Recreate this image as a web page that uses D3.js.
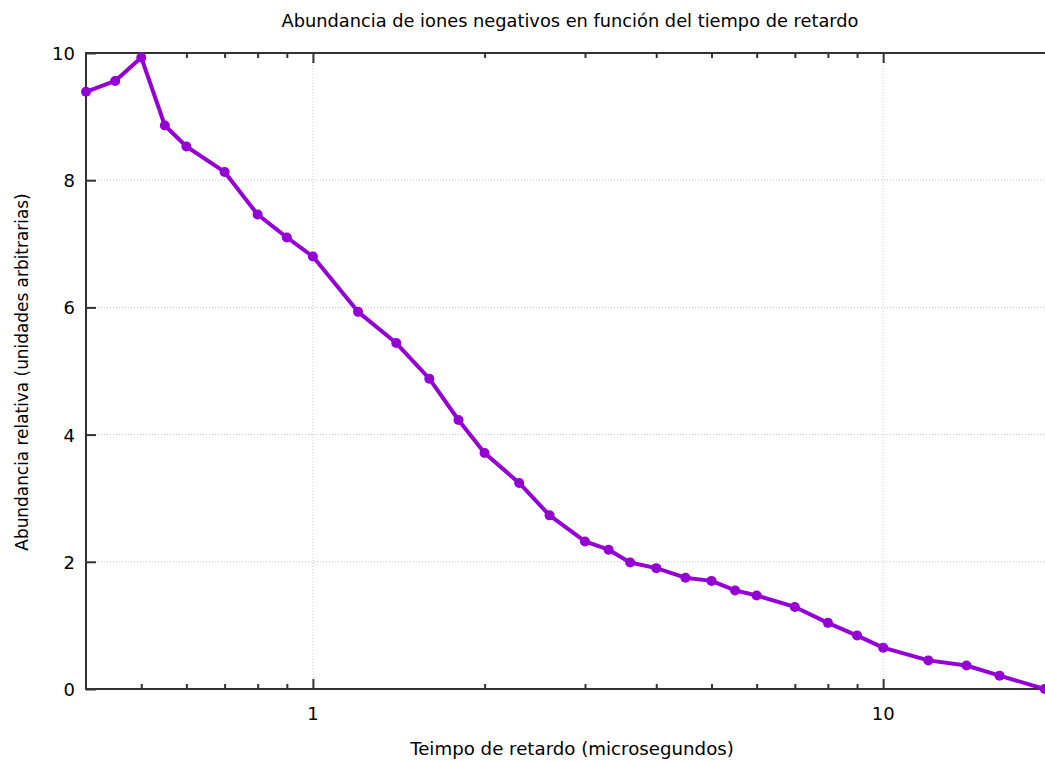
<!DOCTYPE html>
<meta charset="utf-8">
<style>

body { margin: 0; background: #fff; }
text { font-family: "DejaVu Sans", sans-serif; fill: #000; }
.title { font-size: 17.8px; }
.xlabel { font-size: 18.2px; }
.ylabel { font-size: 16.9px; }
.tick-label { font-size: 18px; }
.grid line { stroke: #c8c8c8; stroke-width: 1; stroke-dasharray: 1,2; }
.border { fill: none; stroke: #333; stroke-width: 2; }
.serie { fill: none; stroke: #9400d3; stroke-width: 4; stroke-linejoin: round; }
.punto { fill: #9400d3; }

</style>
<svg width="1045" height="762"></svg>
<script src="https://d3js.org/d3.v7.min.js"></script>
<script>

// tiempo de retardo (microsegundos)
var tiempo = [0.4, 0.45, 0.5, 0.55, 0.6, 0.7, 0.8, 0.9, 1, 1.2, 1.4, 1.6, 1.8, 2, 2.3, 2.6,
              3, 3.3, 3.6, 4, 4.5, 5, 5.5, 6, 7, 8, 9, 10, 12, 14, 16, 19.2];
// abundancia relativa
var abundancia = [9.39, 9.56, 9.93, 8.86, 8.53, 8.13, 7.46, 7.10, 6.80, 5.93, 5.44, 4.88, 4.23, 3.71, 3.24, 2.73,
                  2.32, 2.19, 1.99, 1.90, 1.75, 1.70, 1.55, 1.47, 1.29, 1.04, 0.84, 0.65, 0.45, 0.37, 0.21, 0.0];

var xMajor = [1, 10],
    xMinor = [0.5, 0.6, 0.7, 0.8, 0.9, 2, 3, 4, 5, 6, 7, 8, 9],
    yTicks = [0, 2, 4, 6, 8, 10];

var titulo = "Abundancia de iones negativos en función del tiempo de retardo",
    xTitulo = "Teimpo de retardo (microsegundos)",
    yTitulo = "Abundancia relativa (unidades arbitrarias)";

var svg = d3.select("svg"),
    margin = {top: 53, right: -1, bottom: 73, left: 86},
    width = +svg.attr("width") - margin.left - margin.right,
    height = +svg.attr("height") - margin.top - margin.bottom;

var data = tiempo.map(function(t, i) { return {t: t, a: abundancia[i]}; });

var x = d3.scaleLog().domain([0.4, 19.3]).range([0, width]),
    y = d3.scaleLinear().domain([0, 10]).range([height, 0]);

var g = svg.append("g")
    .attr("transform", "translate(" + margin.left + "," + margin.top + ")");

// rejilla punteada
var grid = g.append("g").attr("class", "grid");
grid.selectAll(".gy")
    .data(yTicks.filter(function(d) { return d > 0 && d < 10; }))
  .enter().append("line")
    .attr("x1", 0).attr("x2", width)
    .attr("y1", y).attr("y2", y);
grid.selectAll(".gx")
    .data(xMajor)
  .enter().append("line")
    .attr("x1", x).attr("x2", x)
    .attr("y1", 0).attr("y2", height);

// marcas hacia dentro, abajo y arriba
function marcas(s) {
  s.select(".domain").remove();
  s.selectAll("line").attr("stroke", "#333").attr("stroke-width", 2);
}
g.append("g")
    .attr("transform", "translate(0," + height + ")")
    .call(d3.axisBottom(x).tickValues(xMajor).tickSize(-10).tickFormat(""))
    .call(marcas);
g.append("g")
    .attr("transform", "translate(0," + height + ")")
    .call(d3.axisBottom(x).tickValues(xMinor).tickSize(-5).tickFormat(""))
    .call(marcas);
g.append("g")
    .call(d3.axisTop(x).tickValues(xMajor).tickSize(-10).tickFormat(""))
    .call(marcas);
g.append("g")
    .call(d3.axisTop(x).tickValues(xMinor).tickSize(-5).tickFormat(""))
    .call(marcas);
g.append("g")
    .call(d3.axisLeft(y).tickValues(yTicks).tickSize(-10).tickFormat(""))
    .call(marcas);

// etiquetas de las marcas
g.selectAll(".xl")
    .data(xMajor)
  .enter().append("text")
    .attr("class", "tick-label")
    .attr("x", x)
    .attr("y", height + 31)
    .attr("text-anchor", "middle")
    .text(function(d) { return d; });
g.selectAll(".yl")
    .data(yTicks)
  .enter().append("text")
    .attr("class", "tick-label")
    .attr("x", -11)
    .attr("y", function(d) { return y(d) + 7; })
    .attr("text-anchor", "end")
    .text(function(d) { return d; });

g.append("rect")
    .attr("class", "border")
    .attr("width", width)
    .attr("height", height);

var line = d3.line()
    .x(function(d) { return x(d.t); })
    .y(function(d) { return y(d.a); });

g.append("path")
    .datum(data)
    .attr("class", "serie")
    .attr("d", line);

g.selectAll(".punto")
    .data(data)
  .enter().append("circle")
    .attr("class", "punto")
    .attr("cx", function(d) { return x(d.t); })
    .attr("cy", function(d) { return y(d.a); })
    .attr("r", 5);

svg.append("text")
    .attr("class", "title")
    .attr("x", 570)
    .attr("y", 27)
    .attr("text-anchor", "middle")
    .text(titulo);

svg.append("text")
    .attr("class", "xlabel")
    .attr("x", 572)
    .attr("y", 755)
    .attr("text-anchor", "middle")
    .text(xTitulo);

svg.append("text")
    .attr("class", "ylabel")
    .attr("transform", "translate(28,372) rotate(-90)")
    .attr("text-anchor", "middle")
    .text(yTitulo);

</script>
